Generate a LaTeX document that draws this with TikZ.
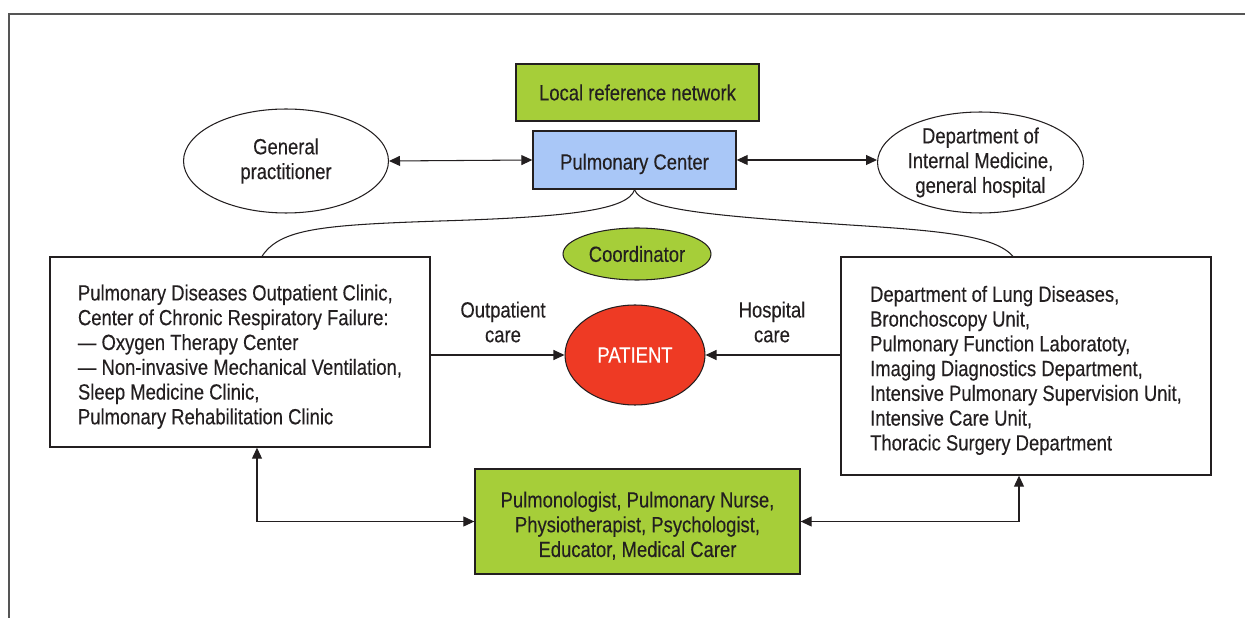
\documentclass[tikz,border=0pt]{standalone}
\usepackage{fontspec}
\setmainfont{Liberation Sans}[FakeStretch=0.84,FakeBold=0.3]
\usetikzlibrary{arrows.meta,shapes.geometric,calc}
\definecolor{lgreen}{HTML}{A6CE39}
\definecolor{lblue}{HTML}{A9C7F7}
\definecolor{pred}{HTML}{EE3A24}
\definecolor{frame}{HTML}{555555}
\definecolor{ink}{HTML}{231F20}
\newcommand\tstrut[1]{\rule{0pt}{#1}}
\tikzset{
  txt/.style={font=\fontsize{12.5}{14.1}\selectfont, text=ink},
  boxnode/.style={txt, draw=ink, line width=0.8pt, rectangle, inner sep=0pt},
  ellnode/.style={txt, draw=ink, line width=0.6pt, ellipse, inner sep=0pt},
  conn/.style={draw=ink, line width=0.6pt},
  arr/.style={conn, -{Triangle[length=0.22cm,width=0.2cm]}},
  darr/.style={conn, {Triangle[length=0.22cm,width=0.2cm]}-{Triangle[length=0.22cm,width=0.2cm]}},
}
\begin{document}
\begin{tikzpicture}[x=0.02cm, y=-0.02cm]
\useasboundingbox (0,0) rectangle (1245,618);
% frame
\draw[frame, line width=0.9pt] (9,618) -- (9,14) -- (1245,14);

% top nodes
\node[boxnode, fill=lgreen, minimum width=4.86cm, minimum height=1.14cm] (lrn) at (637.5,92.5) {Local reference network};
\node[boxnode, fill=lblue, minimum width=4.06cm, minimum height=1.16cm] (pc) at (634.5,160) {\tstrut{13.5pt}Pulmonary Center};
\node[ellnode, minimum width=4.1cm, minimum height=2.08cm, align=center] (gp) at (286,161) {General\\practitioner};
\node[ellnode, minimum width=4.06cm, minimum height=2.02cm, align=center] (dim) at (980.5,162.5) {Department of\\Internal Medicine,\\general hospital};
\node[ellnode, fill=lgreen, minimum width=2.96cm, minimum height=1.04cm] (coord) at (637,254) {Coordinator};

% side boxes
\node[boxnode, minimum width=7.6cm, minimum height=3.8cm, align=left] (lb) at (240,352)
  {\tstrut{14.4pt}Pulmonary Diseases Outpatient Clinic,\\
   Center of Chronic Respiratory Failure:\\
   — Oxygen Therapy Center\\
   — Non-invasive Mechanical Ventilation,\\
   Sleep Medicine Clinic,\\
   Pulmonary Rehabilitation Clinic};
\node[boxnode, minimum width=7.4cm, minimum height=4.36cm, align=left] (rb) at (1026,366)
  {\tstrut{14.1pt}Department of Lung Diseases,\\
   Bronchoscopy Unit,\\
   Pulmonary Function Laboratoty,\\
   Imaging Diagnostics Department,\\
   Intensive Pulmonary Supervision Unit,\\
   Intensive Care Unit,\\
   Thoracic Surgery Department};

% patient
\node[ellnode, fill=pred, text=white, minimum width=2.8cm, minimum height=2.0cm] (pat) at (635,355) {PATIENT};

% team
\node[boxnode, fill=lgreen, minimum width=6.5cm, minimum height=2.1cm, align=center] (team) at (637.5,521.5)
  {\tstrut{13.8pt}Pulmonologist, Pulmonary Nurse,\\Physiotherapist, Psychologist,\\Educator, Medical Carer};

% labels
\node[txt, align=center] (outl) at (503,322) {Outpatient\\care};
\node[txt, align=center] (hosl) at (772,322) {Hospital\\care};

% connectors
\draw[darr] (gp.east) -- (pc.west);
\draw[darr] (pc.east) -- (pc.east -| dim.west);
\draw[arr] (lb.east |- pat.west) -- (pat.west);
\draw[arr] (rb.west |- pat.east) -- (pat.east);
\draw[darr] ([xshift=0.34cm]lb.south) |- (team.west);
\draw[darr] (team.east) -| ([xshift=-0.14cm]rb.south);

% curly connections to Pulmonary Center
\draw[conn] ([xshift=0.44cm]lb.north) .. controls (280,229) and (320,225) .. (440,221)
  .. controls (570,217) and (628,210) .. (pc.south);
\draw[conn] ([xshift=-0.26cm]rb.north) .. controls (995,236) and (945,231) .. (850,225)
  .. controls (715,216) and (642,210) .. (pc.south);
\end{tikzpicture}
\end{document}
